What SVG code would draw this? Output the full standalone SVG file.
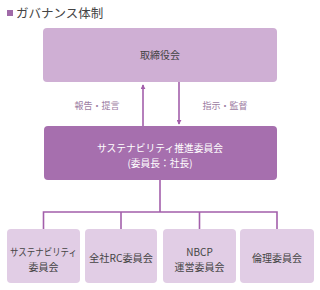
<svg xmlns="http://www.w3.org/2000/svg" width="320" height="290" viewBox="0 0 320 290">
<defs>
<style>
text{font-family:"Noto Sans CJK JP","Noto Sans",sans-serif;text-anchor:middle;}
.dark{fill:#444;font-size:10px;}
.lbl{fill:#9c7ca2;font-size:9.5px;}
.wh{fill:#fff;font-size:10px;}
.ln{stroke:#a35fab;stroke-width:1.6;fill:none;}
.sub{fill:#e1cde5;}
</style>
<marker id="ah" viewBox="0 0 6 6" refX="5" refY="3" markerWidth="5" markerHeight="5" orient="auto" markerUnits="userSpaceOnUse">
<path d="M0,0 L6,3 L0,6 z" fill="#a35fab"/>
</marker>
</defs>
<rect width="320" height="290" fill="#fff"/>
<g id="title">
<rect x="7" y="10" width="6" height="6" fill="#a06aa8"/>
<text x="16" y="18" style="text-anchor:start;font-size:12.5px;fill:#444;">ガバナンス体制</text>
</g>
<g id="connectors">
<line class="ln" x1="143" y1="128" x2="143" y2="85" marker-end="url(#ah)"/>
<line class="ln" x1="179" y1="82" x2="179" y2="124" marker-end="url(#ah)"/>
<polyline class="ln" points="160,180 160,212"/>
<polyline class="ln" points="43.5,229 43.5,212 277,212 277,229"/>
<line class="ln" x1="121" y1="212" x2="121" y2="229"/>
<line class="ln" x1="199.5" y1="212" x2="199.5" y2="229"/>
<text class="lbl" x="97" y="108.5" textLength="45" lengthAdjust="spacingAndGlyphs">報告・提言</text>
<text class="lbl" x="225" y="108.5" textLength="45" lengthAdjust="spacingAndGlyphs">指示・監督</text>
</g>
<g id="board">
<rect x="43" y="28" width="234" height="54" rx="4" fill="#cfafd4"/>
<text class="dark" x="160" y="59">取締役会</text>
</g>
<g id="committee">
<rect x="44" y="126" width="233" height="54" rx="4" fill="#a66fae"/>
<text class="wh" x="160" y="152" textLength="126" lengthAdjust="spacingAndGlyphs">サステナビリティ推進委員会</text>
<text class="wh" x="160" y="167" textLength="65" lengthAdjust="spacingAndGlyphs">(委員長：社長)</text>
</g>
<g id="sub1">
<rect class="sub" x="7" y="229" width="73" height="54" rx="4"/>
<text class="dark" x="43.5" y="256" textLength="67" lengthAdjust="spacingAndGlyphs">サステナビリティ</text>
<text class="dark" x="43.5" y="271">委員会</text>
</g>
<g id="sub2">
<rect class="sub" x="85" y="229" width="72" height="54" rx="4"/>
<text class="dark" x="121" y="262" textLength="64" lengthAdjust="spacingAndGlyphs">全社RC委員会</text>
</g>
<g id="sub3">
<rect class="sub" x="163" y="229" width="73" height="54" rx="4"/>
<text class="dark" x="199.5" y="256">NBCP</text>
<text class="dark" x="199.5" y="271">運営委員会</text>
</g>
<g id="sub4">
<rect class="sub" x="240" y="229" width="74" height="54" rx="4"/>
<text class="dark" x="277" y="262">倫理委員会</text>
</g>
</svg>
